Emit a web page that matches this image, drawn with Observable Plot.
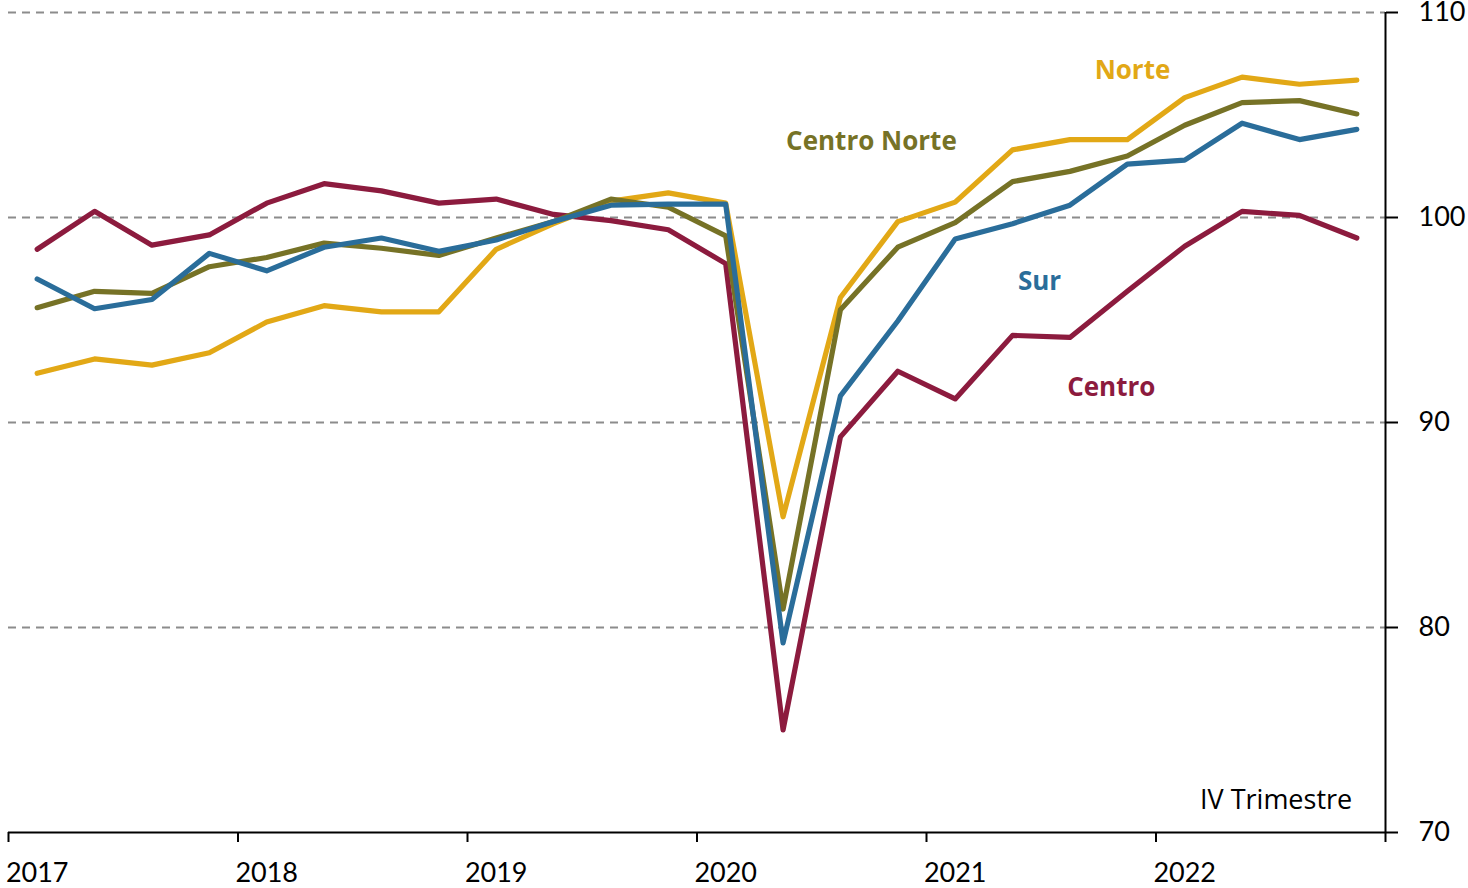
<!DOCTYPE html>
<html>
<head>
<meta charset="utf-8">
<script src="https://cdn.jsdelivr.net/npm/d3@7"></script>
<script src="https://cdn.jsdelivr.net/npm/@observablehq/plot@0.6"></script>
<style>
  html, body { margin: 0; padding: 0; background: #ffffff; }
  #chart { width: 1468px; height: 888px; overflow: hidden; }
</style>
</head>
<body>
<div id="chart"></div>
<script>
// Years and quarters (IV Trimestre series, quarterly points)
const years = [2017, 2018, 2019, 2020, 2021, 2022];
const quarters = ["I", "II", "III", "IV"];

// Series values (index, base 100)
const norte = [92.4, 93.1, 92.8, 93.4, 94.9, 95.7, 95.4, 95.4, 98.45, 99.7, 100.8, 101.2,
               100.7, 85.4, 96.1, 99.8, 100.75, 103.3, 103.8, 103.8, 105.85, 106.85, 106.5, 106.7];
const centroNorte = [95.6, 96.4, 96.3, 97.6, 98.05, 98.75, 98.5, 98.15, 99.0, 99.8, 100.9, 100.5,
                     99.1, 80.9, 95.5, 98.55, 99.75, 101.75, 102.25, 103.0, 104.5, 105.6, 105.7, 105.05];
const sur = [97.0, 95.55, 96.0, 98.25, 97.4, 98.55, 99.0, 98.35, 98.9, 99.8, 100.6, 100.65,
             100.65, 79.25, 91.3, 94.95, 98.95, 99.7, 100.6, 102.6, 102.8, 104.6, 103.8, 104.3];
const centro = [98.45, 100.3, 98.65, 99.15, 100.7, 101.65, 101.3, 100.7, 100.9, 100.15, 99.85, 99.4,
                97.75, 75.0, 89.3, 92.5, 91.15, 94.25, 94.15, 96.4, 98.6, 100.3, 100.1, 99.0];

const seriesNames = ["Centro", "Norte", "Centro Norte", "Sur"];
const seriesColors = ["#8c1b3e", "#e2a816", "#767226", "#2a6d9a"];
const yTicks = [70, 80, 90, 100, 110];
const gridValues = [80, 90, 100, 110];

// Direct labels (series name, x position in quarter index, y value)
const labelNames = ["Norte", "Centro Norte", "Sur", "Centro"];
const labelX = [19.09, 14.54, 17.47, 18.72];
const labelY = [107.17, 103.71, 96.88, 91.71];
const noteText = "IV Trimestre";

// Build table
const periods = years.flatMap(y => quarters.map(q => `${y}-${q}`));
const valuesBySeries = { "Centro": centro, "Norte": norte, "Centro Norte": centroNorte, "Sur": sur };
const data = seriesNames.flatMap(name =>
  valuesBySeries[name].map((v, i) => ({ series: name, i, period: periods[i], value: v }))
);
const labels = labelNames.map((name, k) => ({ name, x: labelX[k], y: labelY[k] }));
const colorOf = Object.fromEntries(seriesNames.map((n, k) => [n, seriesColors[k]]));

const n = periods.length;
const yearBoundaries = d3.range(0, n + 1, 4).map(i => i - 0.5);
const yearLabelPos = d3.range(0, n, 4);

const chart = Plot.plot({
  width: 1468,
  height: 888,
  marginLeft: 8,
  marginRight: 83,
  marginTop: 12,
  marginBottom: 56,
  style: { fontFamily: "Lato, 'Open Sans', sans-serif", fontSize: "27px", color: "#000", background: "#fff", overflow: "visible" },
  x: { domain: [-0.5, n - 0.5] },
  y: { domain: [70, 110] },
  color: { domain: seriesNames, range: seriesColors },
  marks: [
    Plot.ruleY(gridValues, { stroke: "#8c8c8c", strokeWidth: 2, strokeDasharray: "8,6" }),
    Plot.ruleY([70], { stroke: "#000", strokeWidth: 2 }),
    Plot.ruleX([n - 0.5], { stroke: "#000", strokeWidth: 2 }),
    Plot.axisY({ anchor: "right", ticks: yTicks, tickSize: 12, tickPadding: 21, strokeWidth: 2, label: null, fontSize: 27 }),
    Plot.axisX({ ticks: yearBoundaries, tickFormat: () => "", tickSize: 10, strokeWidth: 2, label: null }),
    Plot.axisX({ ticks: yearLabelPos, tickFormat: i => String(years[i / 4]), tickSize: 0, tickPadding: 30, label: null, fontSize: 27 }),
    Plot.lineY(data, { x: "i", y: "value", z: "series", stroke: "series", strokeWidth: 5.2, strokeLinecap: "round", strokeLinejoin: "round" }),
    Plot.text(labels, { x: "x", y: "y", text: "name", fill: d => colorOf[d.name], fontWeight: "bold", fontSize: 26, fontFamily: "'Open Sans', Lato, sans-serif" }),
    Plot.text([noteText], { x: [n - 1.08], y: [71.56], text: d => d, textAnchor: "end", fill: "#000", fontSize: 27, fontFamily: "'Open Sans', Lato, sans-serif" })
  ]
});

document.getElementById("chart").appendChild(chart);
</script>
</body>
</html>
